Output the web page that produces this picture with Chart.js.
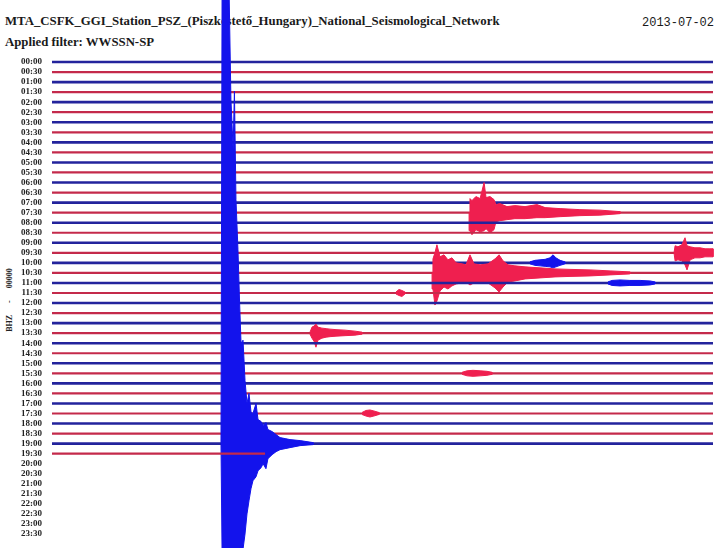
<!DOCTYPE html>
<html>
<head>
<meta charset="utf-8">
<title>PSZ helicorder 2013-07-02</title>
<script src="https://cdn.jsdelivr.net/npm/chart.js@4.4.0/dist/chart.umd.min.js"></script>
<style>
  body { margin: 0; background: #fff; }
  #wrap { position: relative; width: 720px; height: 548px; overflow: hidden; }
  .hdr { position: absolute; font-family: 'Liberation Serif', serif; font-weight: bold;
         font-size: 12.8px; line-height: 13px; color: #1a1a1a; white-space: pre; }
  #date { position: absolute; right: 6px; top: 17px; font-family: 'Liberation Mono', monospace;
          font-size: 12px; line-height: 13px; color: #1a1a1a; }
  #ytitle { position: absolute; left: 8.5px; top: 300px; transform: translate(-50%, -50%) rotate(-90deg);
            font-family: 'Liberation Serif', serif; font-weight: bold; font-size: 8px;
            word-spacing: 10px; white-space: nowrap; color: #222; }
  #plot { position: absolute; left: 0; top: 0; }
</style>
</head>
<body>
<div id="wrap">
  <div class="hdr" style="left:5px; top:15px;">MTA_CSFK_GGI_Station_PSZ_(Piszkéstető_Hungary)_National_Seismological_Network</div>
  <div class="hdr" style="left:5px; top:36px;">Applied filter: WWSSN-SP</div>
  <div id="date">2013-07-02</div>
  <div id="ytitle">BHZ - 00000</div>
  <canvas id="plot" width="720" height="548"></canvas>
</div>
<script>
'use strict';

// one row = 30 minutes of record, labels down the left side
const rowLabels = ['00:00', '00:30', '01:00', '01:30', '02:00', '02:30', '03:00', '03:30',
  '04:00', '04:30', '05:00', '05:30', '06:00', '06:30', '07:00', '07:30',
  '08:00', '08:30', '09:00', '09:30', '10:00', '10:30', '11:00', '11:30',
  '12:00', '12:30', '13:00', '13:30', '14:00', '14:30', '15:00', '15:30',
  '16:00', '16:30', '17:00', '17:30', '18:00', '18:30', '19:00', '19:30',
  '20:00', '20:30', '21:00', '21:30', '22:00', '22:30', '23:00', '23:30'];

const recordedRows = 40;      // 00:00 .. 19:30 have data
const lastRowEndMin = 9.67;   // record stops here in the 19:30 row
const countsPerRow = 10;      // amplitude units per row spacing

// events: minute in row, envelope above / below the trace (counts)
const quake1900Min = [7.67, 7.72, 8.03, 8.12, 8.22, 8.28, 8.35, 8.44, 8.51, 8.58, 8.67, 8.76, 8.85, 8.94, 9.03,
  9.12, 9.26, 9.35, 9.49, 9.58, 9.71, 9.80, 9.99, 10.17, 10.35, 10.58, 10.80, 11.26, 11.85];
const quake1900Up = [0, 460, 460, 343, 293, 351, 243, 193, 143, 100, 103, 63, 40, 50, 32,
  30, 40, 24, 22, 18, 21, 14, 12, 9, 6, 5, 4, 3, 1];
const quake1900Down = [0, 110, 110, 110, 110, 110, 110, 110, 110, 110, 105, 90, 70, 57, 45,
  37, 33, 27, 24, 20, 25, 15, 11, 8, 6, 5, 4, 2, 1];

const ev0730Min = [18.93, 18.97, 19.06, 19.24, 19.43, 19.61, 19.70, 19.88, 20.06, 20.15,
  20.33, 20.65, 21.01, 21.47, 22.01, 22.38, 23.06, 23.96, 24.87, 25.78];
const ev0730Up = [0, 14, 12, 16, 14, 30, 15, 16, 13, 8, 9, 6, 7, 6, 8, 5, 4, 3, 2.5, 1];
const ev0730Down = [0, 18, 22, 17, 19, 18, 16, 20, 17, 9, 8, 7, 6, 6, 5, 5, 4, 3, 2.5, 1];

const ev0930Min = [28.23, 28.28, 28.41, 28.59, 28.73, 28.82, 28.96, 29.18, 29.41, 29.64, 29.86, 30.0];
const ev0930Up = [0, 7, 6, 8, 15, 7, 6, 5, 5, 4, 4, 4];
const ev0930Down = [0, 8, 7, 8, 12, 17, 7, 5, 5, 4, 4, 4];

const ev1000Min = [21.69, 21.92, 22.15, 22.38, 22.60, 22.74, 22.87, 23.06, 23.28];
const ev1000Up = [1, 2.5, 3, 3.5, 5, 8, 5, 2.5, 1];
const ev1000Down = [1, 2.5, 3, 3.5, 4, 5, 4, 2.5, 1];

const ev1030Min = [17.25, 17.29, 17.38, 17.47, 17.61, 17.79, 17.97, 18.15, 18.34, 18.61, 18.79, 18.97, 19.15,
  19.43, 19.79, 20.11, 20.29, 20.47, 20.70, 21.01, 21.47, 22.15, 22.83, 23.51, 24.42, 25.33, 26.23];
const ev1030Up = [0, 14, 20, 28, 16, 18, 13, 15, 10, 9, 8, 18, 9, 8, 9, 14, 18, 12, 8, 7, 6, 5, 4, 3.5, 3, 2, 1];
const ev1030Down = [0, 16, 32, 28, 18, 14, 16, 13, 11, 10, 9, 12, 10, 9, 10, 15, 19, 14, 9, 8, 6, 5, 4, 3.5, 3, 2, 1];

const ev1100Min = [25.23, 25.42, 25.78, 26.23, 26.69, 27.14, 27.37];
const ev1100Up = [1, 2.5, 3, 2.5, 2.5, 2, 1];
const ev1100Down = [1, 2.5, 3, 2.5, 2.5, 2, 1];

const ev1130Min = [15.61, 15.75, 15.88, 16.02];
const ev1130Up = [1, 3.5, 2.5, 1];
const ev1130Down = [1, 2.5, 3.5, 1];

const ev1330Min = [11.71, 11.80, 11.89, 11.98, 12.07, 12.25, 12.44, 12.62, 12.89, 13.30, 13.75, 14.07];
const ev1330Up = [1, 6, 7, 9, 6, 5, 4.5, 4, 3.5, 3, 2, 1];
const ev1330Down = [1, 5, 8, 14, 7, 5, 4, 3.5, 3, 2.5, 2, 1];

const ev1530Min = [18.61, 18.84, 19.11, 19.43, 19.74, 19.97];
const ev1530Up = [1, 2.5, 3, 2.5, 2, 1];
const ev1530Down = [1, 2.5, 3, 2.5, 2, 1];

const ev1730Min = [14.07, 14.25, 14.43, 14.61, 14.84];
const ev1730Up = [1, 3, 3.5, 2.5, 1];
const ev1730Down = [1, 2.5, 3.5, 2.5, 1];

const blueLine = '#23239c';
const redLine = '#c42a4b';
const blueEvent = '#1313ec';
const redEvent = '#ef1f4f';

const events = [
    { row: 38, min: quake1900Min, up: quake1900Up, down: quake1900Down },
    { row: 15, min: ev0730Min, up: ev0730Up, down: ev0730Down },
    { row: 19, min: ev0930Min, up: ev0930Up, down: ev0930Down },
    { row: 20, min: ev1000Min, up: ev1000Up, down: ev1000Down },
    { row: 21, min: ev1030Min, up: ev1030Up, down: ev1030Down },
    { row: 22, min: ev1100Min, up: ev1100Up, down: ev1100Down },
    { row: 23, min: ev1130Min, up: ev1130Up, down: ev1130Down },
    { row: 27, min: ev1330Min, up: ev1330Up, down: ev1330Down },
    { row: 31, min: ev1530Min, up: ev1530Up, down: ev1530Down },
    { row: 35, min: ev1730Min, up: ev1730Up, down: ev1730Down }
];

const datasets = [];

/*trazas*/
for (let r = 0; r < recordedRows; r++) {
    const end = r === recordedRows - 1 ? lastRowEndMin : 30;
    datasets.push({
        data: [{ x: 0, y: r }, { x: end, y: r }],
        borderColor: r % 2 ? redLine : blueLine,
        borderWidth: r % 2 ? 2.2 : 2.6,
        pointRadius: 0,
        order: 1000 - 10 * r
    });
}

/*eventos*/
events.forEach(function(ev) {
    const color = ev.row % 2 ? redEvent : blueEvent;
    const top = ev.min.map((m, k) => ({ x: m, y: ev.row - ev.up[k] / countsPerRow }));
    const bottom = ev.min.map((m, k) => ({ x: m, y: ev.row + ev.down[k] / countsPerRow })).reverse();
    datasets.push({
        data: top.concat(bottom),
        borderColor: color,
        backgroundColor: color,
        borderWidth: 1,
        pointRadius: 0,
        fill: 'shape',
        clip: false,
        order: 1000 - 10 * ev.row - 1
    });
});

new Chart(document.getElementById('plot'), {
    type: 'line',
    data: { datasets: datasets },
    options: {
        responsive: false,
        animation: false,
        devicePixelRatio: 1,
        layout: { padding: { left: 0, right: 7, top: 0, bottom: 0 } },
        plugins: {
            legend: { display: false },
            tooltip: { enabled: false }
        },
        scales: {
            x: { type: 'linear', min: 0, max: 30, display: false },
            y: {
                type: 'linear',
                reverse: true,
                min: -6.174,
                max: 48.394,
                afterBuildTicks: function(scale) {
                    scale.ticks = rowLabels.map((_, i) => ({ value: i }));
                },
                afterFit: function(scale) {
                    scale.width = 52;
                    scale.paddingTop = 0;
                    scale.paddingBottom = 0;
                },
                grid: { display: false, drawTicks: false },
                border: { display: false },
                ticks: {
                    autoSkip: false,
                    padding: 10,
                    color: '#222',
                    font: { family: 'Liberation Serif', size: 9, weight: 'bold' },
                    callback: v => rowLabels[v]
                }
            }
        }
    }
});
</script>
</body>
</html>
